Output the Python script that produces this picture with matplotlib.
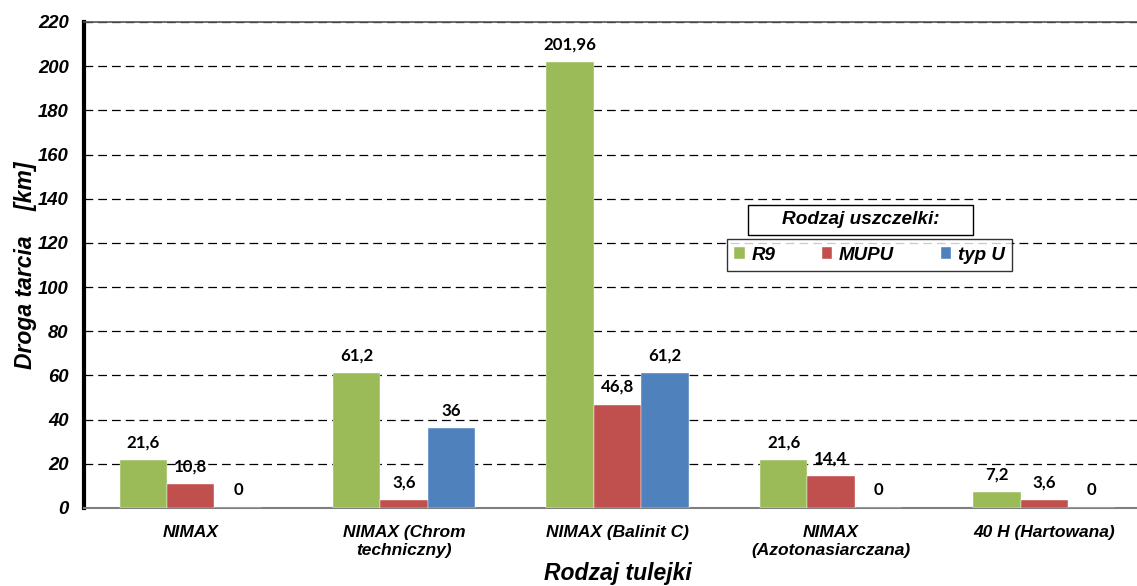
import matplotlib.pyplot as plt
import numpy as np
from matplotlib.patches import Rectangle

categories = ["NIMAX", "NIMAX (Chrom\ntechniczny)", "NIMAX (Balinit C)",
              "NIMAX\n(Azotonasiarczana)", "40 H (Hartowana)"]
series = ["R9", "MUPU", "typ U"]
r9 = [21.6, 61.2, 201.96, 21.6, 7.2]
mupu = [10.8, 3.6, 46.8, 14.4, 3.6]
typ_u = [0, 36, 61.2, 0, 0]
colors = ["#9BBB59", "#C0504D", "#4F81BD"]

W, H = 1137, 586
fig = plt.figure(figsize=(W / 100, H / 100), dpi=100)
# axes run past the right edge, like in the reference crop
ax = fig.add_axes([84 / W, (H - 508) / H, (1151 - 84) / W, 486 / H])

tick_font = {"family": "Liberation Sans", "weight": "bold", "style": "italic"}
x = np.arange(len(categories))
w = 0.222
for i, (name, vals) in enumerate(zip(series, [r9, mupu, typ_u])):
    ax.bar(x + (i - 1) * w, vals, w, color=colors[i], label=name, zorder=3,
           edgecolor="white", linewidth=0.3)
    for xi, v in zip(x + (i - 1) * w, vals):
        lbl = f"{v:g}".replace(".", ",")
        ax.annotate(lbl, (xi, v), xytext=(0, 7), textcoords="offset points",
                    ha="center", va="bottom", fontsize=12.2, fontweight="bold",
                    family="Lato", zorder=4)

ax.set_xlim(-0.5, 4.5)
ax.set_ylim(0, 220)
ax.set_yticks(np.arange(0, 221, 20))
ax.set_xticks(x)
ax.set_xticklabels(categories, fontdict=tick_font, fontsize=12.5, linespacing=1.25)
for t in ax.get_yticklabels():
    t.set_fontproperties(tick_font)
    t.set_fontsize(13.3)
ax.tick_params(axis="both", length=0)
ax.tick_params(axis="y", pad=11)
ax.tick_params(axis="x", pad=12)

ax.yaxis.grid(True, linestyle=(0, (7, 4)), color="black", linewidth=0.9, zorder=0)
ax.set_axisbelow(True)
ax.spines["left"].set_linewidth(3)
ax.spines["left"].set_color("black")
ax.spines["bottom"].set_color("#7f7f7f")
ax.spines["bottom"].set_linewidth(1.5)
ax.spines["top"].set_color("#555555")
ax.spines["top"].set_linewidth(1.2)

ax.set_ylabel("Droga tarcia    [km]", fontdict=tick_font, fontsize=16.5, labelpad=1)
ax.set_xlabel("Rodzaj tulejki", fontdict=tick_font, fontsize=16.5, labelpad=3)

leg = ax.legend(ncol=3, loc="center",
                bbox_to_anchor=((869.5 - 84) / (1151 - 84), (508 - 255) / 486),
                prop={**tick_font, "size": 13.5}, frameon=True, fancybox=False,
                edgecolor="black", handlelength=0.55, handleheight=0.55,
                handletextpad=0.35, columnspacing=2.5, borderpad=0.4,
                borderaxespad=0)
leg.get_frame().set_linewidth(1.0)
leg.set_zorder(5)

# legend title sits in its own box above the entries
fig.patches.append(Rectangle((748 / W, 1 - 235 / H), 225 / W, 30 / H,
                             transform=fig.transFigure, fc="white", ec="black",
                             lw=1.0, zorder=6))
fig.text(861 / W, 1 - 220 / H, "Rodzaj uszczelki:", ha="center", va="center",
         fontdict=tick_font, fontsize=13.7, zorder=7)

fig.savefig("out.png", dpi=100)
